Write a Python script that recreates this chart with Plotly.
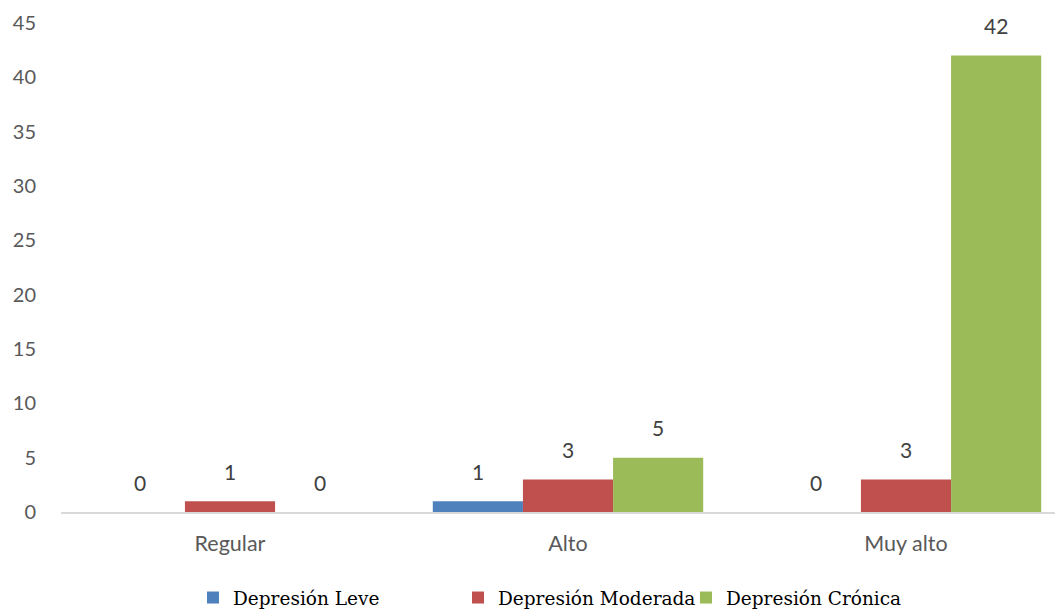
import plotly.graph_objects as go

categories = ["Regular", "Alto", "Muy alto"]
series_names = ["Depresión Leve", "Depresión Moderada", "Depresión Crónica"]
leve = [0, 1, 0]
moderada = [1, 3, 3]
cronica = [0, 5, 42]
colors = ["#4F81BD", "#C0504D", "#9BBB59"]
y_ticks = [0, 5, 10, 15, 20, 25, 30, 35, 40, 45]

W, H = 1055, 610
ML, MR, MT, MB = 61, 0, 23, 98
plot_w = W - ML - MR
plot_h = H - MT - MB
BARGAP = 0.2

fig = go.Figure()
legend_ids = ["legend", "legend2", "legend3"]
legend_text_x = [233, 498, 726]
all_series = [leve, moderada, cronica]
n = len(all_series)
for name, vals, col, lid in zip(series_names, all_series, colors, legend_ids):
    fig.add_trace(go.Bar(
        name=name, x=categories, y=vals, marker_color=col,
        marker_line_width=0, legend=lid,
    ))

# data labels placed at each bar's centre (in data units of the category axis)
bar_w = (1 - BARGAP) / n
for i, vals in enumerate(all_series):
    for j, v in enumerate(vals):
        fig.add_annotation(
            x=j + (i - (n - 1) / 2) * bar_w, y=v, xref="x", yref="y",
            text=str(v), showarrow=False, yanchor="middle", yshift=30,
            font=dict(family="Lato", size=21, color="#404040"),
        )

legend_y = -(598 - (MT + plot_h)) / plot_h
legend_common = dict(
    orientation="h", yanchor="middle", y=legend_y, xanchor="left",
    font=dict(family="DejaVu Serif", size=18.5, color="#000000"),
    bgcolor="rgba(0,0,0,0)", itemclick=False,
)
layout_legends = {}
for lid, tx in zip(legend_ids, legend_text_x):
    d = dict(legend_common)
    d["x"] = (tx - 40 - ML) / plot_w
    layout_legends[lid] = d

fig.update_layout(
    width=W, height=H,
    margin=dict(l=ML, r=MR, t=MT, b=MB, autoexpand=False),
    paper_bgcolor="white", plot_bgcolor="white",
    barmode="group", bargap=BARGAP, bargroupgap=0,
    showlegend=True,
    **layout_legends,
)
fig.update_xaxes(
    range=[-0.5, -0.5 + plot_w / 338.0],
    showline=True, linecolor="#D9D9D9", linewidth=2,
    showgrid=False, ticks="", ticklabelstandoff=11,
    tickfont=dict(family="Lato", size=21.5, color="#595959"),
)
fig.update_yaxes(
    range=[0, 45], tickvals=y_ticks, showgrid=False, zeroline=False,
    showline=False, ticks="", ticklabelstandoff=24,
    tickfont=dict(family="Lato", size=20, color="#595959"),
)
fig.write_html(
    "out.html",
    config={"displayModeBar": False},
    post_script="document.body.style.margin='0';document.body.style.padding='0';",
)
